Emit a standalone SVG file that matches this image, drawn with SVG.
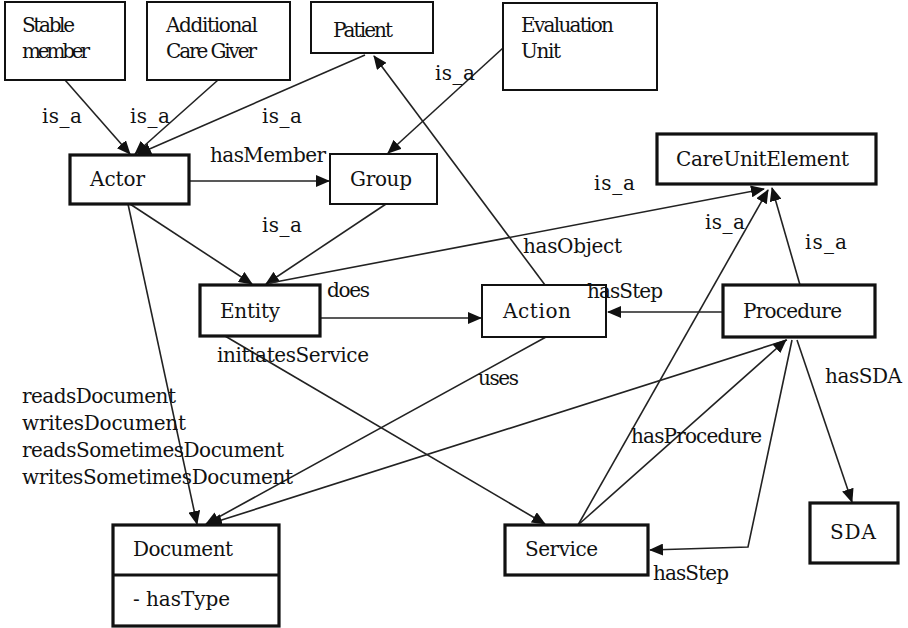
<svg xmlns="http://www.w3.org/2000/svg" width="908" height="628" viewBox="0 0 908 628">
<style>
text{font-family:"DejaVu Serif","Liberation Serif",serif;font-size:20px;fill:#111}
.thin{fill:#fff;stroke:#111;stroke-width:2}
.thick{fill:#fff;stroke:#111;stroke-width:3.2}
.e{fill:none;stroke:#222;stroke-width:1.6}
</style>
<defs>
<marker id="a" viewBox="0 0 14 12" refX="13" refY="6" markerWidth="14" markerHeight="12" markerUnits="userSpaceOnUse" orient="auto">
<path d="M0,0 L14,6 L0,12 z" fill="#111"/>
</marker>
</defs>
<rect width="908" height="628" fill="#fff"/>
<g id="connectors">
<line class="e" x1="65" y1="80" x2="130" y2="154" marker-end="url(#a)"/>
<line class="e" x1="218" y1="80" x2="135" y2="154" marker-end="url(#a)"/>
<line class="e" x1="365" y1="55" x2="138" y2="154" marker-end="url(#a)"/>
<line class="e" x1="503" y1="48" x2="388" y2="153" marker-end="url(#a)"/>
<line class="e" x1="190" y1="181" x2="329" y2="181" marker-end="url(#a)"/>
<line class="e" x1="130" y1="204" x2="252" y2="284" marker-end="url(#a)"/>
<line class="e" x1="386" y1="204" x2="266" y2="284" marker-end="url(#a)"/>
<line class="e" x1="270" y1="283" x2="764" y2="189" marker-end="url(#a)"/>
<line class="e" x1="800" y1="285" x2="772" y2="188" marker-end="url(#a)"/>
<line class="e" x1="578" y1="525" x2="768" y2="190" marker-end="url(#a)"/>
<line class="e" x1="128" y1="204" x2="197" y2="524" marker-end="url(#a)"/>
<line class="e" x1="545" y1="285" x2="374" y2="56" marker-end="url(#a)"/>
<line class="e" x1="320" y1="318" x2="481" y2="318" marker-end="url(#a)"/>
<line class="e" x1="723" y1="312" x2="608" y2="312" marker-end="url(#a)"/>
<line class="e" x1="225" y1="336" x2="545" y2="524" marker-end="url(#a)"/>
<line class="e" x1="546" y1="337" x2="206" y2="524" marker-end="url(#a)"/>
<line class="e" x1="787" y1="340" x2="209" y2="524" marker-end="url(#a)"/>
<line class="e" x1="578" y1="525" x2="786" y2="340" marker-end="url(#a)"/>
<polyline class="e" points="792,340 748,547 650,550" marker-end="url(#a)"/>
<line class="e" x1="797" y1="340" x2="852" y2="502" marker-end="url(#a)"/>
</g>
<g id="stable-member"><rect class="thin" x="5" y="2" width="120" height="78"/><text x="22" y="32" textLength="53">Stable</text><text x="22" y="58" textLength="68">member</text></g>
<g id="additional-care-giver"><rect class="thin" x="147" y="2" width="143" height="78"/><text x="166" y="32" textLength="92">Additional</text><text x="166" y="58" textLength="91">Care Giver</text></g>
<g id="patient"><rect class="thin" x="311" y="2" width="122" height="51"/><text x="333" y="37" textLength="60">Patient</text></g>
<g id="evaluation-unit"><rect class="thin" x="503" y="3" width="154" height="87"/><text x="521" y="32" textLength="93">Evaluation</text><text x="521" y="58" textLength="40">Unit</text></g>
<g id="actor"><rect class="thick" x="70" y="155" width="119" height="49"/><text x="90" y="186" textLength="55">Actor</text></g>
<g id="group"><rect class="thin" x="330" y="154" width="107" height="50"/><text x="350" y="186" textLength="62">Group</text></g>
<g id="care-unit-element"><rect class="thick" x="657" y="134" width="219" height="50"/><text x="676" y="166" textLength="173">CareUnitElement</text></g>
<g id="entity"><rect class="thick" x="200" y="285" width="120" height="51"/><text x="220" y="318" textLength="60">Entity</text></g>
<g id="action"><rect class="thin" x="482" y="285" width="124" height="52"/><text x="503" y="318" textLength="68">Action</text></g>
<g id="procedure"><rect class="thick" x="723" y="285" width="152" height="52"/><text x="743" y="318" textLength="99">Procedure</text></g>
<g id="document"><rect class="thick" x="113" y="525" width="166" height="101"/><line x1="113" y1="575" x2="279" y2="575" stroke="#111" stroke-width="3"/><text x="133" y="556" textLength="100">Document</text><text x="133" y="606" textLength="97">- hasType</text></g>
<g id="service"><rect class="thick" x="505" y="525" width="143" height="50"/><text x="525" y="556" textLength="73">Service</text></g>
<g id="sda"><rect class="thick" x="810" y="503" width="88" height="60"/><text x="830" y="539" textLength="46">SDA</text></g>
<g id="connector-labels">
<text x="42" y="123" textLength="40">is_a</text>
<text x="130" y="123" textLength="40">is_a</text>
<text x="262" y="123" textLength="40">is_a</text>
<text x="435" y="80" textLength="40">is_a</text>
<text x="210" y="162" textLength="116">hasMember</text>
<text x="594" y="190" textLength="41">is_a</text>
<text x="262" y="232" textLength="40">is_a</text>
<text x="705" y="229" textLength="40">is_a</text>
<text x="805" y="249" textLength="42">is_a</text>
<text x="523" y="253" textLength="99">hasObject</text>
<text x="587" y="298" textLength="76">hasStep</text>
<text x="327" y="297" textLength="43">does</text>
<text x="217" y="362" textLength="152">initiatesService</text>
<text x="478" y="385" textLength="41">uses</text>
<text x="825" y="383" textLength="77">hasSDA</text>
<text x="22" y="403" textLength="154">readsDocument</text>
<text x="22" y="430" textLength="164">writesDocument</text>
<text x="22" y="457" textLength="262">readsSometimesDocument</text>
<text x="22" y="484" textLength="271">writesSometimesDocument</text>
<text x="631" y="443" textLength="131">hasProcedure</text>
<text x="653" y="580" textLength="76">hasStep</text>
</g>
</svg>
